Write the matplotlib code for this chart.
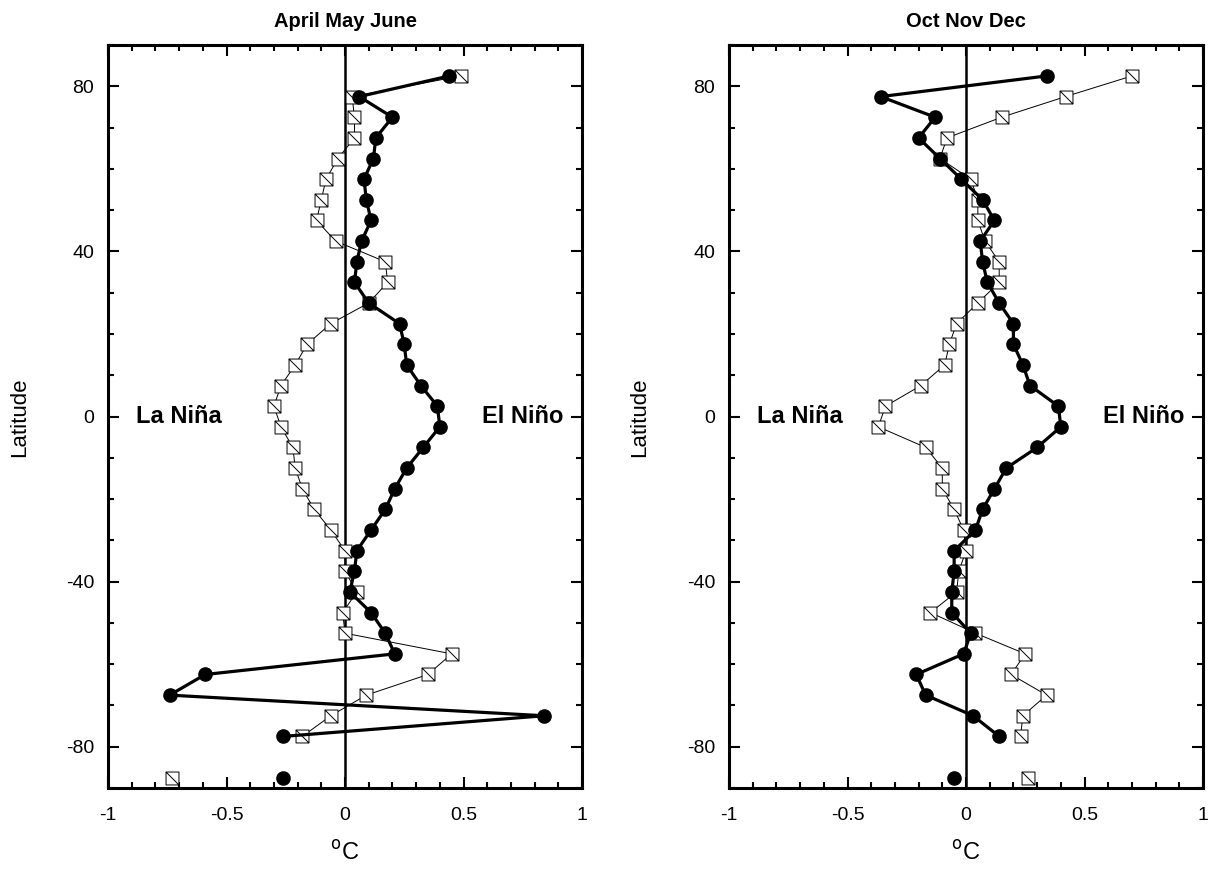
import numpy as np
import matplotlib
matplotlib.use("Agg")
import matplotlib.pyplot as plt
from matplotlib.path import Path
from matplotlib.ticker import MultipleLocator

plt.rcParams['font.family'] = ['Liberation Sans', 'DejaVu Sans']

# Latitude bands (5-degree), north to south
latitude = [82.5, 77.5, 72.5, 67.5, 62.5, 57.5, 52.5, 47.5, 42.5, 37.5, 32.5, 27.5,
            22.5, 17.5, 12.5, 7.5, 2.5, -2.5, -7.5, -12.5, -17.5, -22.5, -27.5, -32.5,
            -37.5, -42.5, -47.5, -52.5, -57.5, -62.5, -67.5, -72.5, -77.5, -82.5, -87.5]
nan = float('nan')

# April May June
amj_elnino = [0.44, 0.06, 0.20, 0.13, 0.12, 0.08, 0.09, 0.11, 0.07, 0.05, 0.04, 0.10,
              0.23, 0.25, 0.26, 0.32, 0.39, 0.40, 0.33, 0.26, 0.21, 0.17, 0.11, 0.05,
              0.04, 0.02, 0.11, 0.17, 0.21, -0.59, -0.74, 0.84, -0.26, nan, -0.26]
amj_lanina = [0.49, 0.03, 0.04, 0.04, -0.03, -0.08, -0.10, -0.12, -0.04, 0.17, 0.18, 0.10,
              -0.06, -0.16, -0.21, -0.27, -0.30, -0.27, -0.22, -0.21, -0.18, -0.13, -0.06, 0.00,
              0.00, 0.05, -0.01, 0.00, 0.45, 0.35, 0.09, -0.06, -0.18, nan, -0.73]

# Oct Nov Dec
ond_elnino = [0.34, -0.36, -0.13, -0.20, -0.11, -0.02, 0.07, 0.12, 0.06, 0.07, 0.09, 0.14,
              0.20, 0.20, 0.24, 0.27, 0.39, 0.40, 0.30, 0.17, 0.12, 0.07, 0.04, -0.05,
              -0.05, -0.06, -0.06, 0.02, -0.01, -0.21, -0.17, 0.03, 0.14, nan, -0.05]
ond_lanina = [0.70, 0.42, 0.15, -0.08, -0.11, 0.02, 0.05, 0.05, 0.08, 0.14, 0.14, 0.05,
              -0.04, -0.07, -0.09, -0.19, -0.34, -0.37, -0.17, -0.10, -0.10, -0.05, -0.01, 0.00,
              -0.03, -0.04, -0.15, 0.04, 0.25, 0.19, 0.34, 0.24, 0.23, nan, 0.26]

titles = ["April May June", "Oct Nov Dec"]
x_ticks = [-1, -0.5, 0, 0.5, 1]
x_ticklabels = ["-1", "-0.5", "0", "0.5", "1"]
y_ticks = [-80, -40, 0, 40, 80]
y_ticklabels = ["-80", "-40", "0", "40", "80"]

# square marker with diagonal
sq = Path([(-1, -1), (1, -1), (1, 1), (-1, 1), (-1, -1), (-1, 1), (1, -1)],
          [Path.MOVETO, Path.LINETO, Path.LINETO, Path.LINETO, Path.CLOSEPOLY,
           Path.MOVETO, Path.LINETO])

fig = plt.figure(figsize=(12.09, 8.92), dpi=100)
W, H = 1209, 892
axes_px = [(108, 45, 582, 788), (729, 45, 1203, 788)]
ylabel_x = [20, 640]

data = [(amj_elnino, amj_lanina), (ond_elnino, ond_lanina)]

for i, (x0, y0, x1, y1) in enumerate(axes_px):
    ax = fig.add_axes([x0 / W, 1 - y1 / H, (x1 - x0) / W, (y1 - y0) / H])
    el, la = data[i]
    ax.axvline(0, color='black', lw=1.8, zorder=1)
    ax.plot(la, latitude, color='black', lw=0.7, marker=sq, markersize=9.3,
            markerfacecolor='white', markeredgecolor='black', markeredgewidth=0.7, zorder=2)
    ax.plot(el, latitude, color='black', lw=2.3, marker='o', markersize=9.5,
            markerfacecolor='black', markeredgecolor='black', zorder=3)
    ax.set_xlim(-1, 1)
    ax.set_ylim(-90, 90)
    ax.set_xticks(x_ticks)
    ax.set_xticklabels(x_ticklabels)
    ax.set_yticks(y_ticks)
    ax.set_yticklabels(y_ticklabels)
    ax.xaxis.set_minor_locator(MultipleLocator(0.1))
    ax.yaxis.set_minor_locator(MultipleLocator(10))
    ax.tick_params(which='both', direction='in', top=True, right=True, width=1.5,
                   labelsize=14)
    ax.tick_params(which='major', length=8)
    ax.tick_params(which='minor', length=4.5)
    ax.tick_params(axis='x', pad=14)
    ax.tick_params(axis='y', pad=10)
    for s in ax.spines.values():
        s.set_linewidth(2.2)
    ax.set_title(titles[i], fontsize=14.5, fontweight='bold', pad=13)
    ax.set_xlabel("$^{\\mathrm{o}}$C", fontsize=17, labelpad=12)
    ax.text(-0.70, 0, "La Niña", fontsize=17, fontweight='bold', ha='center', va='center')
    ax.text(0.75, 0, "El Niño", fontsize=17, fontweight='bold', ha='center', va='center')
    fig.text(ylabel_x[i] / W, 1 - 417 / H, "Latitude", rotation=90, fontsize=16,
             ha='center', va='center')

fig.savefig("out.png", dpi=100)
